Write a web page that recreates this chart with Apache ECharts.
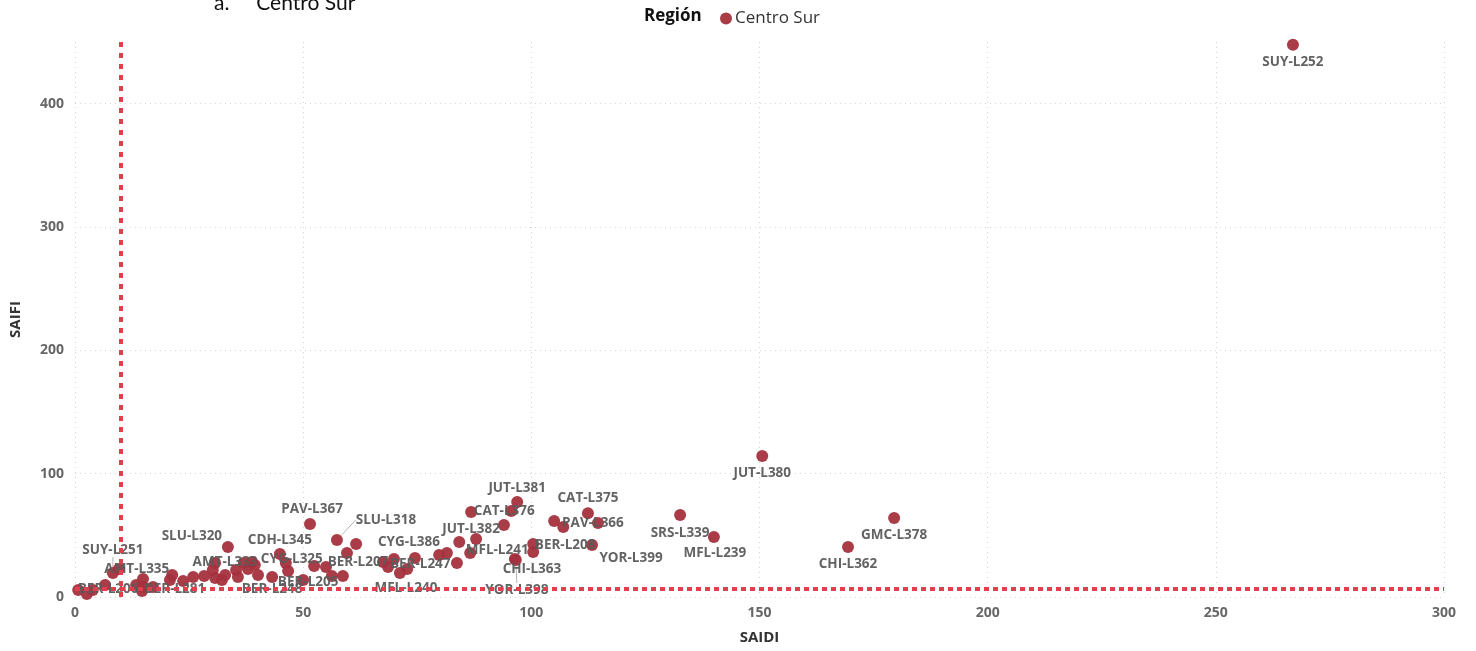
<!DOCTYPE html>
<html>
<head>
<meta charset="utf-8">
<title>SAIDI vs SAIFI - Centro Sur</title>
<script src="https://cdn.jsdelivr.net/npm/echarts@6/dist/echarts.min.js"></script>
<style>
  html, body { margin: 0; padding: 0; background: #fff; }
  #chart { width: 1476px; height: 651px; }
</style>
</head>
<body>
<div id="chart"></div>
<script>
// datos
const region = 'Centro Sur'
const names = ['', '', '', 'BER-L206', 'SUY-L251', 'AMT-L335', '', '', '', '', '',
  'BER-L281', '', '', '', '', '', 'AMT-L333', '', '', '', 'SLU-L320', '', '', '', '', '', '', '',
  'BER-L248', 'CDH-L345', 'CYG-L325', '', 'BER-L205', 'PAV-L367', '', 'BER-L207', '', '',
  'SLU-L318', '', '', '', '', 'CYG-L386', 'MFL-L240', 'BER-L247', '', '', '', '', '',
  'MFL-L241', 'JUT-L382', '', '', 'CAT-L376', 'JUT-L381', 'CHI-L363', 'YOR-L398', 'BER-L208', '',
  '', '', 'CAT-L375', 'PAV-L366', 'YOR-L399', 'SRS-L339', 'MFL-L239', 'JUT-L380', 'CHI-L362',
  'GMC-L378', 'SUY-L252']
const saidi = [0.7, 2.6, 3.9, 6.6, 8.3, 9.6, 13.4, 14.7, 14.9, 14.9, 17.1,
  20.8, 21.3, 23.7, 25.9, 28.3, 30.2, 30.7, 30.7, 32.2, 32.9, 33.5, 35.3, 35.7, 37.9, 38.8, 39.4, 40.1, 37,
  43.2, 44.9, 46.2, 46.7, 50, 51.5, 52.4, 55, 56.3, 58.7,
  57.4, 61.6, 59.6, 67.5, 68.6, 69.9, 71.2, 72.8, 74.5, 79.8, 81.5, 83.7, 84.2,
  86.6, 87.9, 86.8, 94, 95.6, 96.9, 96.4, 96.6, 100.4, 100.4,
  105, 107, 112.4, 114.6, 113.3, 132.6, 140, 150.6, 169.4,
  179.5, 266.9]
const saifi = [5.7, 2.4, 5.7, 9.7, 19.5, 22.7, 9.7, 4.9, 14.6, 8.1, 8.1,
  13.8, 17.8, 13, 16.2, 17, 21.9, 27.6, 15.4, 13.8, 17.8, 40.6, 21.9, 16.2, 22.7, 28.4, 26, 17.8, 27.6,
  16.2, 34.9, 27.6, 21.1, 13.8, 59.2, 25.1, 24.3, 17, 17,
  46.2, 43, 35.7, 28.4, 24.3, 30.8, 19.5, 22.7, 31.6, 34, 35.7, 27.6, 44.6,
  35.7, 47, 69, 58.4, 69.7, 77, 30.8, 30, 43, 36.5,
  61.6, 56.8, 68, 60, 42.2, 66.5, 48.7, 114.4, 40.6,
  64, 447.7]
const xTicks = [0, 50, 100, 150, 200, 250, 300]
const yTicks = [0, 100, 200, 300, 400]
const saidiRef = 10
const saifiRef = 6.5

// desplazamiento de las etiquetas (px) respecto al punto
const labelShift = {
  'SUY-L252': [0, 17], 'JUT-L380': [0, 17], 'GMC-L378': [0, 17], 'CHI-L362': [0, 17],
  'SRS-L339': [0, 18], 'MFL-L239': [1, 16], 'CAT-L375': [0, -15], 'PAV-L366': [-5, 0],
  'YOR-L399': [39, 13], 'JUT-L381': [0, -14], 'CAT-L376': [-7, 0], 'JUT-L382': [-5, -10],
  'MFL-L241': [27, -3], 'BER-L208': [32, 1], 'CHI-L363': [17, 10], 'YOR-L398': [1, 30],
  'CYG-L386': [15, -17], 'BER-L247': [13, -5], 'MFL-L240': [6, 15], 'SLU-L318': [49, -20],
  'BER-L207': [32, -5], 'BER-L205': [5, 2], 'PAV-L367': [2, -15], 'CDH-L345': [0, -14],
  'CYG-L325': [6, -4], 'BER-L248': [0, 12], 'AMT-L333': [10, -1], 'SLU-L320': [-36, -11],
  'BER-L281': [5, 9], 'AMT-L335': [18, 0], 'SUY-L251': [0, -23], 'BER-L206': [3, 4]
}
const withLeader = ['SLU-L318', 'SUY-L251', 'YOR-L398']

let data = names.map((n, i) => ({
  name: n,
  value: [saidi[i], saifi[i]],
  label: { show: n !== '' },
  labelLine: { show: withLeader.includes(n) }
}))

let myChart = echarts.init(document.getElementById('chart'))
let gridDots = { color: '#d6d6d6', width: 1, type: [1, 4] }
let option = {
  animation: false,
  textStyle: { fontFamily: 'Open Sans' },
  grid: { left: 75, right: 32, top: 42, bottom: 54 },
  legend: {
    data: [region],
    left: 715, top: 5,
    icon: 'circle', itemWidth: 12, itemHeight: 12, itemGap: 3,
    textStyle: { fontSize: 17, color: '#333', fontFamily: 'Open Sans', padding: [0, 0, 0, -2] }
  },
  graphic: [
    { type: 'text', x: 644, y: 16,
      style: { text: 'Región', font: 'bold 17px "Open Sans"', fill: '#111', verticalAlign: 'middle' } },
    { type: 'text', x: 214, y: 14,
      style: { text: 'a.     Centro Sur', font: '21px Lato', fill: '#111', verticalAlign: 'bottom' } }
  ],
  xAxis: {
    type: 'value', min: xTicks[0], max: xTicks[xTicks.length - 1], interval: 50,
    name: 'SAIDI', nameLocation: 'middle', nameGap: 33,
    nameTextStyle: { fontSize: 15, fontWeight: 'bold', color: '#333' },
    axisLine: { show: false }, axisTick: { show: false },
    axisLabel: { fontSize: 14, fontWeight: 'bold', color: '#676767', margin: 9 },
    splitLine: { show: true, lineStyle: gridDots }
  },
  yAxis: {
    type: 'value', min: yTicks[0], max: 450, interval: 100,
    name: 'SAIFI', nameLocation: 'middle', nameGap: 52,
    nameTextStyle: { fontSize: 15, fontWeight: 'bold', color: '#333' },
    axisLine: { show: false }, axisTick: { show: false },
    axisLabel: { fontSize: 14, fontWeight: 'bold', color: '#676767', margin: 11, showMaxLabel: false,
      formatter: v => yTicks.includes(v) ? String(v) : '' },
    splitLine: { show: true, showMaxLine: false, lineStyle: gridDots }
  },
  series: [{
    name: region,
    type: 'scatter',
    symbolSize: 12,
    itemStyle: { color: '#a5323e', opacity: 0.95 },
    label: {
      position: 'inside',
      fontSize: 13.5, fontWeight: 'bold', color: '#5b5b5b',
      formatter: p => p.name
    },
    labelLine: { show: false, lineStyle: { color: '#b5b5b5', width: 1 } },
    labelLayout: p => {
      let s = labelShift[names[p.dataIndex]]
      return s ? { dx: s[0], dy: s[1] } : {}
    },
    data: data,
    markLine: {
      silent: true, symbol: 'none', label: { show: false },
      data: [
        { xAxis: saidiRef, lineStyle: { color: '#e0404e', width: 4, type: [5, 6] } },
        { yAxis: saifiRef, lineStyle: { color: '#e0404e', width: 4, type: [5, 4] } }
      ]
    }
  }]
}
myChart.setOption(option)
</script>
</body>
</html>
